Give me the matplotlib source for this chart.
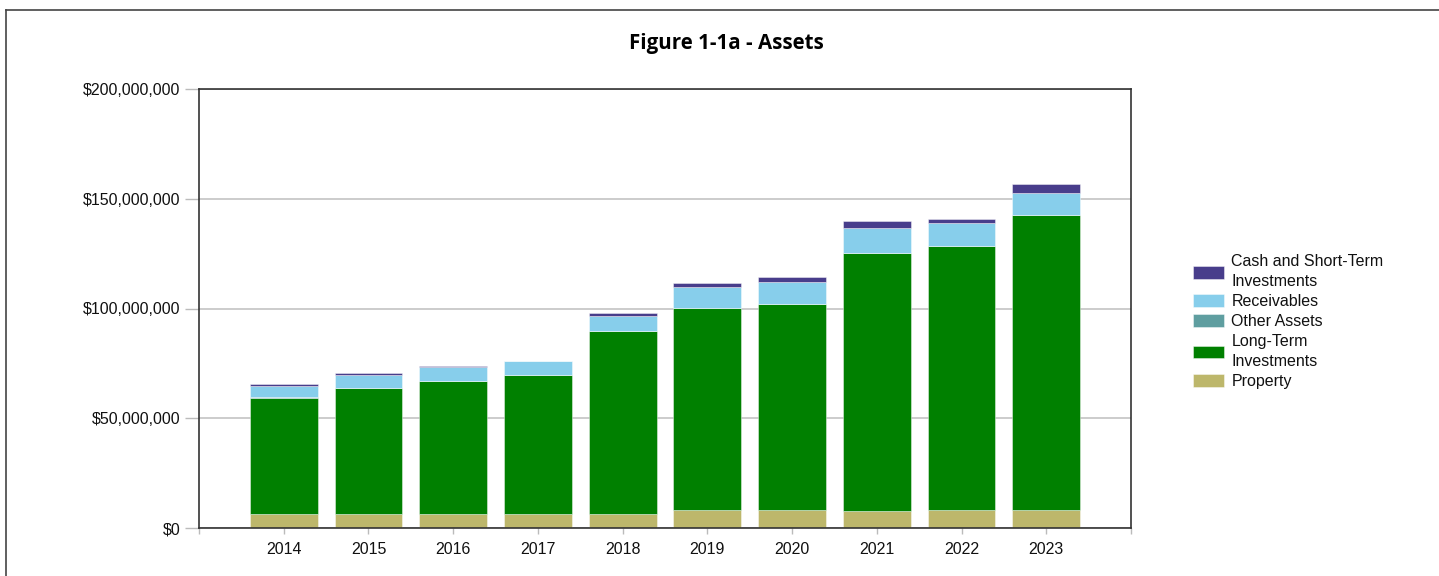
import matplotlib
matplotlib.use("Agg")
import matplotlib.pyplot as plt
from matplotlib.lines import Line2D
from matplotlib.ticker import FuncFormatter, FixedLocator
import numpy as np

years = ["2014", "2015", "2016", "2017", "2018", "2019", "2020", "2021", "2022", "2023"]
property_vals = [6.4, 6.4, 6.4, 6.4, 6.4, 8.3, 8.0, 7.9, 8.3, 8.0]
long_term = [53.0, 57.5, 60.6, 63.4, 83.3, 91.9, 94.1, 117.2, 120.3, 134.5]
other_assets = [0.1, 0.1, 0.1, 0.1, 0.1, 0.1, 0.1, 0.1, 0.1, 0.1]
receivables = [5.3, 5.7, 6.2, 6.0, 7.0, 9.5, 10.0, 11.6, 10.2, 9.8]
cash = [0.8, 1.0, 0.5, 0.3, 1.1, 1.8, 2.0, 3.2, 1.7, 4.3]

series = [
    ("Property", property_vals, "#BDB76B"),
    ("Long-Term\nInvestments", long_term, "#008000"),
    ("Other Assets", other_assets, "#5F9EA0"),
    ("Receivables", receivables, "#87CEEB"),
    ("Cash and Short-Term\nInvestments", cash, "#483D8B"),
]

plt.rcParams['font.family'] = ['Liberation Sans', 'DejaVu Sans']

W, H = 1439, 576
fig = plt.figure(figsize=(W / 100, H / 100), dpi=100)
ax = fig.add_axes([199 / W, 1 - 528 / H, (1131 - 199) / W, (528 - 89) / H])

x = np.arange(len(years))
bottom = np.zeros(len(years))
handles = []
for label, vals, color in series:
    v = np.array(vals) * 1e6
    b = ax.bar(x, v, width=0.8, bottom=bottom, color=color, label=label,
               edgecolor=(1, 1, 1, 0.5), linewidth=0.6, zorder=3)
    handles.append(b)
    bottom = bottom + v

ax.set_xlim(-1, 10)
ax.set_ylim(0, 200e6)
ax.set_yticks([0, 50e6, 100e6, 150e6, 200e6])
ax.yaxis.set_major_formatter(FuncFormatter(lambda v, p: "${:,.0f}".format(v)))
ax.set_xticks(x)
ax.set_xticklabels(years)
ax.xaxis.set_minor_locator(FixedLocator([-1, 10]))
ax.tick_params(axis='x', which='both', length=4, width=1, color='#bbbbbb', pad=6,
               labelsize=11.5, labelcolor='#111111')
ax.tick_params(axis='y', length=10, width=1, color='#bbbbbb', pad=3.5,
               labelsize=11.5, labelcolor='#111111')
ax.grid(axis='y', color='#bfbfbf', linewidth=1.1, zorder=0)
for s in ax.spines.values():
    s.set_color('#333333')
    s.set_linewidth(1.2)
    s.set_zorder(4)

fig.text(726 / W, 1 - 44 / H, "Figure 1-1a - Assets", ha='center', va='center',
         fontsize=14.8, fontweight='bold', family=['Open Sans', 'DejaVu Sans'])

leg = fig.legend(handles[::-1], [s[0] for s in series][::-1],
                 loc='upper left', bbox_to_anchor=(1193 / W, 1 - 254 / H),
                 frameon=False, fontsize=11.5, handlelength=1.95, handleheight=0.85,
                 handletextpad=0.45, labelspacing=0.3, borderaxespad=0, borderpad=0)
for t in leg.get_texts():
    t.set_linespacing(1.45)
    t.set_color('#111111')

# outer border
fig.add_artist(Line2D([6 / W, 6 / W], [0, 1 - 10 / H], transform=fig.transFigure,
                      color='#444444', linewidth=1.2))
fig.add_artist(Line2D([6 / W, 1], [1 - 10 / H, 1 - 10 / H], transform=fig.transFigure,
                      color='#444444', linewidth=1.2))

fig.savefig("out.png", dpi=100)
